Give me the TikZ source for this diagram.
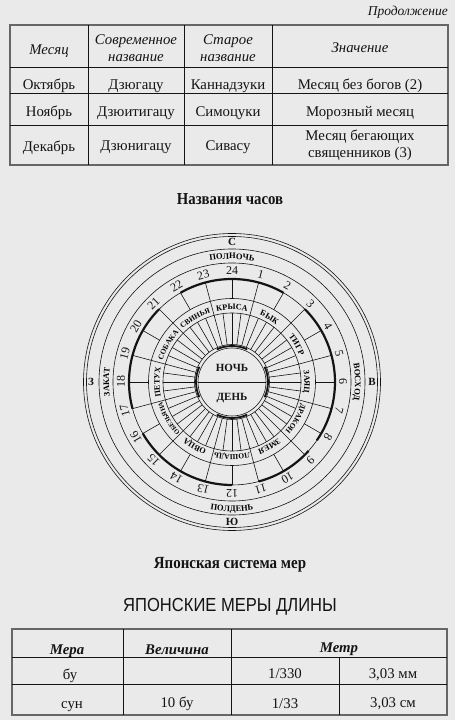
\documentclass[tikz,border=0pt]{standalone}
\usepackage{fontspec}
\setmainfont{Liberation Serif}
\newfontfamily\sansf{Liberation Sans}
\usepackage{graphicx}
\usetikzlibrary{decorations.text}
\definecolor{paper}{RGB}{234,234,234}
\definecolor{ink}{RGB}{20,20,20}
\newcommand\animalfnt{\fontsize{8.2}{8.2}\bfseries\selectfont}
\newcommand\animalsmall{\fontsize{7.5}{7.5}\bfseries\selectfont}
\newcommand\ringfnt{\fontsize{8.5}{8.5}\bfseries\selectfont}
\newcommand\animalarc[3]{\path[decorate,decoration={text along path,text={|#3|#2},text align=center}] ({#1+21}:72.5) arc[start angle={#1+21},end angle={#1-21},radius=72.5];}
\begin{document}
\begin{tikzpicture}[x=1pt,y=1pt,
  tline/.style={line width=0.7pt, draw=ink},
  tborder/.style={line width=1.6pt, draw=black!60},
  cell/.style={text=ink, font=\fontsize{14.8}{17}\selectfont, align=center, inner sep=0pt},
  hcell/.style={cell, font=\fontsize{14.8}{17}\itshape\selectfont},
  bhcell/.style={cell, font=\fontsize{14.8}{17}\bfseries\itshape\selectfont},
  ring/.style={line width=0.6pt, draw=ink},
  thickarc/.style={line width=2.2pt, draw=ink},
  hournum/.style={text=ink, font=\fontsize{12}{12}\selectfont, inner sep=0pt},
  compass/.style={text=ink, font=\fontsize{11}{11}\bfseries\selectfont, inner sep=0pt},
  title/.style={text=ink, inner sep=0pt},
]
\fill[paper] (0,0) rectangle (455,720);
\useasboundingbox (0,0) rectangle (455,720);

% ---------- top table ----------
\node[cell, font=\fontsize{13.5}{15}\itshape\selectfont, anchor=base east] (cont) at (448,704) {Продолжение};
\draw[tborder] (10,555) rectangle (448,695);
\draw[tline] (10,653) -- (448,653);
\draw[tline] (10,627) -- (448,627);
\draw[tline] (10,595) -- (448,595);
\draw[tline] (88,555) -- (88,695);
\draw[tline] (184,555) -- (184,695);
\draw[tline] (272,555) -- (272,695);

\node[hcell, anchor=base] (h1) at (49,665) {Месяц};
\node[hcell] (h2) at (136,672) {Современное\\название};
\node[hcell] (h3) at (228,672) {Старое\\название};
\node[hcell, anchor=base] (h4) at (360,667) {Значение};

\node[cell, anchor=base] (a1) at (49,630) {Октябрь};
\node[cell, anchor=base] (a2) at (136,630) {Дзюгацу};
\node[cell, anchor=base] (a3) at (228,630) {Каннадзуки};
\node[cell, anchor=base] (a4) at (360,630) {Месяц без богов (2)};

\node[cell, anchor=base] (b1) at (49,603) {Ноябрь};
\node[cell, anchor=base] (b2) at (136,603.5) {Дзюитигацу};
\node[cell, anchor=base] (b3) at (228,603.5) {Симоцуки};
\node[cell, anchor=base] (b4) at (360,603.5) {Морозный месяц};

\node[cell, anchor=base] (c1) at (49,568.5) {Декабрь};
\node[cell, anchor=base] (c2) at (136,569) {Дзюнигацу};
\node[cell, anchor=base] (c3) at (228,569) {Сивасу};
\node[cell] (c4) at (360,575) {Месяц бегающих\\священников (3)};

% ---------- clock ----------
\node[title] (t1) at (230,521) {\scalebox{0.88}[1]{\fontsize{16.8}{16.8}\bfseries\selectfont Названия часов}};

\begin{scope}[shift={(232,338)}]
  \draw[ring] (0,0) circle[radius=148.5];
  \draw[ring] (0,0) circle[radius=145.5];
  \draw[ring] (0,0) circle[radius=133];
  \draw[ring] (0,0) circle[radius=119];
  \draw[ring] (0,0) circle[radius=103];
  \draw[ring] (0,0) circle[radius=83.5];
  \draw[ring] (0,0) circle[radius=69];
  \draw[ring] (0,0) circle[radius=37.5];
  \draw[ring] (0,0) circle[radius=34];
  \foreach \h in {0,...,23} \draw[ring] ({90-15*\h}:83.5) -- ({90-15*\h}:103);
  \foreach \h in {1,3,...,23} \draw[ring] ({90-15*\h}:69) -- ({90-15*\h}:83.5);
  \foreach \k in {0,...,47} \draw[ring] ({7.5*\k}:37.5) -- ({7.5*\k}:69);
  \draw[ring] (180:34) -- (0:34);
  \foreach \a/\b in {22/26, 3/8.3, 8.8/11, 12/16, 17/21}
    \draw[thickarc] ({90-15*\a}:103) arc[start angle={90-15*\a}, end angle={90-15*\b}, radius=103];
  \foreach \c in {0,90,180,270}
    \draw[thickarc, line width=1.8pt] ({\c+25}:36) arc[start angle={\c+25}, end angle={\c-25}, radius=36];

  \foreach \h in {1,...,24}
    \node[hournum, rotate={-15*\h}] (hn\h) at ({90-15*\h}:111) {\h};

  \animalarc{90}{КРЫСА}{\animalfnt}
  \animalarc{60}{БЫК}{\animalfnt}
  \animalarc{30}{ТИГР}{\animalfnt}
  \animalarc{0}{ЗАЯЦ}{\animalfnt}
  \animalarc{-30}{ДРАКОН}{\animalsmall}
  \animalarc{-60}{ЗМЕЯ}{\animalfnt}
  \animalarc{-90}{ЛОШАДЬ}{\animalsmall}
  \animalarc{-120}{ОВЦА}{\animalfnt}
  \animalarc{-150}{ОБЕЗЬЯНА}{\fontsize{6.6}{6.6}\bfseries\selectfont}
  \animalarc{-180}{ПЕТУХ}{\animalfnt}
  \animalarc{-210}{СОБАКА}{\animalsmall}
  \animalarc{-240}{СВИНЬЯ}{\animalsmall}

  \path[decorate,decoration={text along path,text={|\ringfnt|ПОЛНОЧЬ},text align=center}] (110:123) arc[start angle=110,end angle=70,radius=123];
  \path[decorate,decoration={text along path,text={|\ringfnt|ПОЛДЕНЬ},text align=center}] (250:129.5) arc[start angle=250,end angle=290,radius=129.5];
  \path[decorate,decoration={text along path,text={|\ringfnt|ЗАКАТ},text align=center}] (200:123) arc[start angle=200,end angle=160,radius=123];
  \path[decorate,decoration={text along path,text={|\ringfnt|ВОСХОД},text align=center}] (20:123) arc[start angle=20,end angle=-20,radius=123];

  \node[compass] (cn) at (90:140.5) {С};
  \node[compass] (ce) at (0:140) {В};
  \node[compass] (cs) at (270:139.5) {Ю};
  \node[compass] (cw) at (180:141) {З};

  \node[text=ink, font=\fontsize{11}{11}\bfseries\selectfont, inner sep=0pt] (night) at (0,14) {НОЧЬ};
  \node[text=ink, font=\fontsize{11}{11}\bfseries\selectfont, inner sep=0pt] (day) at (0,-16) {ДЕНЬ};
\end{scope}

% ---------- bottom ----------
\node[title] (t2) at (230,155) {\scalebox{0.88}[1]{\fontsize{17}{17}\bfseries\selectfont Японская система мер}};
\node[title] (t3) at (230,113) {\scalebox{0.92}[1.05]{\fontsize{18}{18}\sansf\selectfont ЯПОНСКИЕ МЕРЫ ДЛИНЫ}};

\draw[tborder] (12,5) rectangle (447,91);
\draw[tline] (12,63) -- (447,63);
\draw[tline] (12,36) -- (447,36);
\draw[tline] (123,5) -- (123,91);
\draw[tline] (231,5) -- (231,91);
\draw[tline] (339,5) -- (339,63);

\node[bhcell, anchor=base] (m1) at (67,65) {Мера};
\node[bhcell, anchor=base] (m2) at (177,65) {Величина};
\node[bhcell, anchor=base] (m3) at (339,67) {Метр};

\node[cell, anchor=base] (d1) at (70,40) {бу};
\node[cell, anchor=base] (d3) at (285,41) {1/330};
\node[cell, anchor=base] (d4) at (393,41) {3,03 мм};

\node[cell, anchor=base] (e1) at (72,12) {сун};
\node[cell, anchor=base] (e2) at (177,12.5) {10 бу};
\node[cell, anchor=base] (e3) at (285,12) {1/33};
\node[cell, anchor=base] (e4) at (393,12.5) {3,03 см};
\end{tikzpicture}
\end{document}
